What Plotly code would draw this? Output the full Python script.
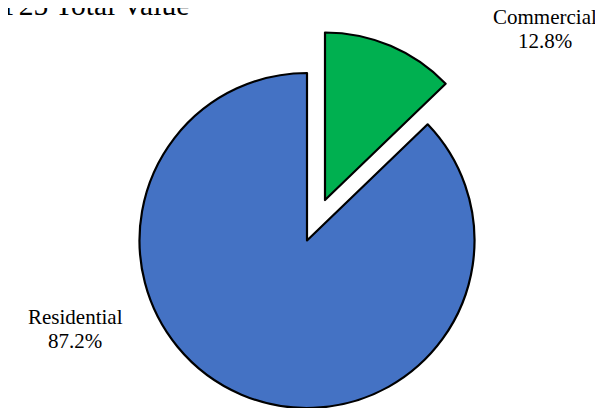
import plotly.graph_objects as go

title_text = "FY25 Total Value"
categories = ["Commercial", "Residential"]
values = [12.8, 87.2]
colors = ["#00B050", "#4472C4"]

# The page body adds an 8px margin, so the figure is sized/offset for it
OFF = 8
W, H = 603 - OFF, 408 - OFF
FONT = "Liberation Serif"

def px(x):  # page pixel -> paper x
    return (x - OFF) / W

def py(y):  # page pixel -> paper y
    return 1 - (y - OFF) / H

fig = go.Figure()

# Main pie (Residential drawn, Commercial slot left empty)
fig.add_trace(go.Pie(
    labels=categories, values=values, sort=False, direction="clockwise", rotation=0,
    marker=dict(colors=["rgba(0,0,0,0)", colors[1]],
                line=dict(color=["rgba(0,0,0,0)", "black"], width=[0, 2.2])),
    textinfo="none", hoverinfo="label+percent", showlegend=False,
    domain=dict(x=[px(139), px(475)], y=[0, py(73)]),
))
# Exploded Commercial slice
fig.add_trace(go.Pie(
    labels=categories, values=values, sort=False, direction="clockwise", rotation=0,
    marker=dict(colors=[colors[0], "rgba(0,0,0,0)"],
                line=dict(color=["black", "rgba(0,0,0,0)"], width=[2.2, 0])),
    textinfo="none", hoverinfo="label+percent", showlegend=False,
    domain=dict(x=[px(157.5), px(492.5)], y=[py(367.5), py(32.5)]),
))

total = sum(values)
# (centre x, first-line centre y, second-line centre y) in page pixels
label_pos = {"Commercial": (545, 17, 40.5), "Residential": (75, 317, 340.5)}
annotations = []
for cat, val in zip(categories, values):
    x, y1, y2 = label_pos[cat]
    for txt, yy in ((cat, y1), (f"{val / total * 100:.1f}%", y2)):
        annotations.append(dict(
            text=txt, x=px(x), y=py(yy),
            xref="paper", yref="paper", showarrow=False, xanchor="center", yanchor="middle",
            font=dict(family=FONT, size=21, color="black"),
        ))
annotations.append(dict(
    text=title_text, x=px(-21), y=py(5), xref="paper", yref="paper", showarrow=False,
    xanchor="left", yanchor="middle", font=dict(family=FONT, size=29.5, color="black"),
))

fig.update_layout(
    width=W, height=H, margin=dict(l=0, r=0, t=0, b=0),
    paper_bgcolor="white", plot_bgcolor="white",
    annotations=annotations, showlegend=False,
)

fig.write_html("out.html")
